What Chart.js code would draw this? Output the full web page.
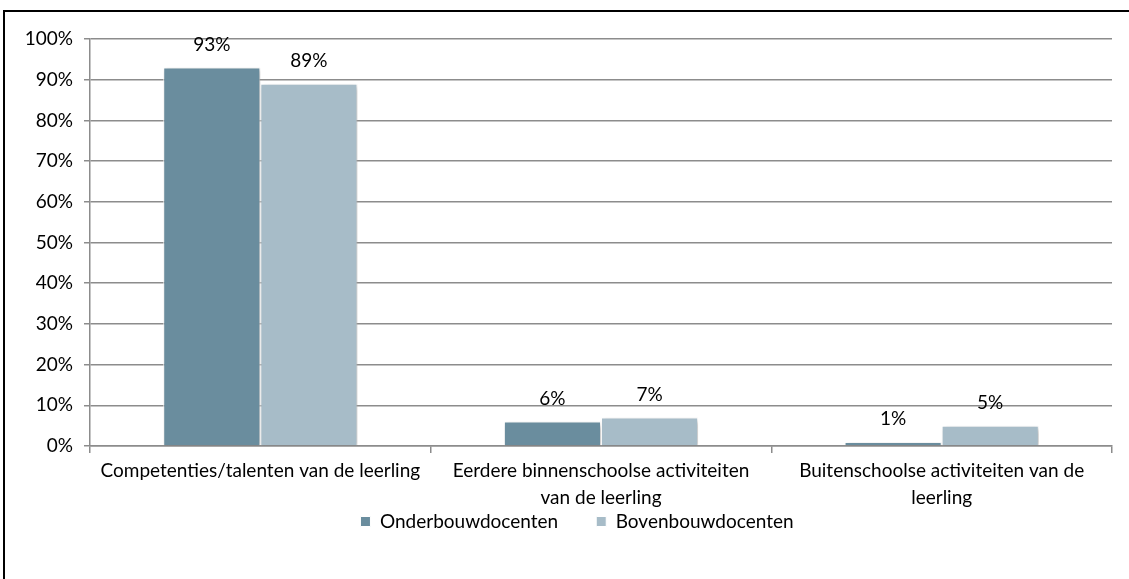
<!DOCTYPE html>
<html>
<head>
<meta charset="utf-8">
<script src="https://cdn.jsdelivr.net/npm/chart.js@4"></script>
<style>
  html, body { margin: 0; padding: 0; background: #fff; }
  #wrap { position: absolute; left: 0; top: 0; width: 1129px; height: 579px; }
  #frame { position: absolute; left: 3px; top: 10px; width: 1130px; height: 580px;
           border-top: 2px solid #000; border-left: 2px solid #000; }
  canvas { position: absolute; left: 0; top: 0; }
</style>
</head>
<body>
<div id="wrap">
  <div id="frame"></div>
  <canvas id="myChart" width="1129" height="579"></canvas>
</div>
<script>
const categories = [
  ["Competenties/talenten van de leerling"],
  ["Eerdere binnenschoolse activiteiten", "van de leerling"],
  ["Buitenschoolse activiteiten van de", "leerling"],
];
const onderbouw = [93, 6, 1];
const bovenbouw = [89, 7, 5];
const yTicks = [0, 10, 20, 30, 40, 50, 60, 70, 80, 90, 100];

const fontFamily = "Lato, 'Open Sans', sans-serif";
const fontSize = 19;

// labels above each bar
const barLabels = {
  id: "barLabels",
  afterDatasetsDraw(chart) {
    const ctx = chart.ctx;
    ctx.save();
    ctx.font = fontSize + "px " + fontFamily;
    ctx.fillStyle = "#000";
    ctx.textAlign = "center";
    ctx.textBaseline = "middle";
    chart.data.datasets.forEach((ds, i) => {
      chart.getDatasetMeta(i).data.forEach((bar, j) => {
        ctx.fillText(ds.data[j] + "%", bar.x, bar.y - 23);
      });
    });
    ctx.restore();
  },
};

// soft shadow under the bars
const barShadow = {
  id: "barShadow",
  beforeDatasetsDraw(chart) {
    const ctx = chart.ctx;
    ctx.save();
    ctx.shadowColor = "rgba(0,0,0,0.3)";
    ctx.shadowBlur = 5;
    ctx.shadowOffsetX = 2;
    ctx.shadowOffsetY = 2;
  },
  afterDatasetsDraw(chart) {
    chart.ctx.restore();
  },
};

// nudge the legend row a bit to the right, as in the original
const legendShift = {
  id: "legendShift",
  afterLayout(chart) {
    chart.legend.left += 21;
    chart.legend.right += 21;
  },
};

const ctx = document.getElementById("myChart").getContext("2d");
const myChart = new Chart(ctx, {
  type: "bar",
  data: {
    labels: categories,
    datasets: [
      {
        label: "Onderbouwdocenten",
        data: onderbouw,
        backgroundColor: "#6a8d9e",
        borderColor: "#ffffff",
        borderWidth: 1,
      },
      {
        label: "Bovenbouwdocenten",
        data: bovenbouw,
        backgroundColor: "#a7bcc8",
        borderColor: "#ffffff",
        borderWidth: 1,
      },
    ],
  },
  plugins: [barShadow, barLabels, legendShift],
  options: {
    responsive: false,
    animation: false,
    categoryPercentage: 0.57,
    barPercentage: 1,
    layout: { padding: { left: 0, right: 17, top: 39, bottom: 38 } },
    plugins: {
      tooltip: { enabled: false },
      legend: {
        position: "bottom",
        labels: {
          font: { size: fontSize, family: fontFamily },
          color: "#000",
          boxWidth: 10,
          boxHeight: 10,
          padding: 4,
          generateLabels: (chart) => {
            const items = Chart.defaults.plugins.legend.labels.generateLabels(chart);
            items[0].text += "       ";
            return items;
          },
        },
      },
    },
    scales: {
      x: {
        offset: true,
        grid: {
          offset: true,
          drawOnChartArea: false,
          tickLength: 7,
          color: "#8c8c8c",
          lineWidth: 1.5,
        },
        border: { color: "#8c8c8c", width: 1.5 },
        ticks: {
          font: { size: fontSize, family: fontFamily, lineHeight: 1.4 },
          color: "#000",
          maxRotation: 0,
          padding: 5,
        },
        afterFit: (s) => { s.height = 62; },
      },
      y: {
        min: 0,
        max: 100,
        afterBuildTicks: (s) => { s.ticks = yTicks.map((v) => ({ value: v })); },
        grid: { color: "#8c8c8c", lineWidth: 1.5, tickLength: 6 },
        border: { color: "#8c8c8c", width: 1.5 },
        ticks: {
          font: { size: fontSize, family: fontFamily },
          color: "#000",
          padding: 11,
          callback: (v) => v + "%",
        },
        afterFit: (s) => { s.width = 90; },
      },
    },
  },
});
</script>
</body>
</html>
